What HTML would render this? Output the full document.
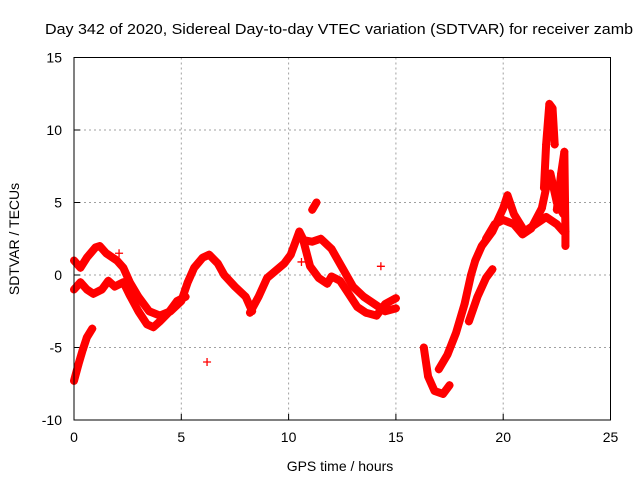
<!DOCTYPE html>
<html><head><meta charset="utf-8"><style>
body{margin:0;background:#fff}
svg{display:block;font-family:"Liberation Sans",sans-serif}
</style></head><body>
<svg id="chart" width="640" height="480">
<rect x="0" y="0" width="640" height="480" fill="#fff"/>
<text x="339" y="34" font-size="15" text-anchor="middle" textLength="588" lengthAdjust="spacingAndGlyphs">Day 342 of 2020, Sidereal Day-to-day VTEC variation (SDTVAR) for receiver zamb</text>
<g id="grid"></g>
<g id="ticks"></g>
<g id="series"></g>
<rect x="74" y="57.5" width="536.5" height="362.5" fill="none" stroke="#000" stroke-width="1"/>
<text x="340" y="471" font-size="14" text-anchor="middle">GPS time / hours</text>
<text x="0" y="0" font-size="14" text-anchor="middle" transform="translate(19,239) rotate(-90)">SDTVAR / TECUs</text>
</svg>
<script>
const xTicks=[0,5,10,15,20,25];
const yTicks=[-10,-5,0,5,10,15];
const trackA=[[0,-7.3],[0.2,-6.2],[0.4,-5.2],[0.6,-4.3],[0.85,-3.7]];
const trackB=[[0,1],[0.3,0.5],[0.6,1.2],[1.0,1.9],[1.2,2.0],[1.5,1.5],[2.0,1.0],[2.3,0.5],[2.6,-0.5],[3.0,-1.5],[3.5,-2.5],[4.0,-2.8],[4.5,-2.5],[5.0,-1.8],[5.3,-0.5],[5.6,0.5],[6.0,1.2],[6.3,1.4],[6.7,0.8],[7.0,0],[7.5,-0.8],[8.0,-1.5],[8.3,-2.5]];
const trackC=[[0,-1],[0.3,-0.5],[0.6,-1],[0.9,-1.3],[1.3,-1.0],[1.6,-0.4],[1.9,-0.8],[2.3,-0.5],[2.6,-1.4],[3.0,-2.5],[3.4,-3.4],[3.7,-3.6],[4.0,-3.2],[4.4,-2.6],[4.8,-1.8],[5.2,-1.5]];
const trackD=[[8.2,-2.6],[8.6,-1.5],[9.0,-0.2],[9.4,0.3],[9.8,0.8],[10.1,1.4],[10.3,2.2],[10.5,3.0],[10.7,2.4],[11.1,2.3],[11.5,2.5],[12.0,1.8],[12.5,0.5],[13.0,-0.8],[13.5,-1.5],[14.0,-2.0],[14.5,-2.5],[15.0,-2.3]];
const trackE=[[10.7,2.3],[11.0,0.6],[11.4,-0.2],[11.8,-0.6],[12.0,-0.1],[12.4,-0.4],[12.8,-1.3],[13.2,-2.2],[13.6,-2.6],[14.1,-2.8],[14.5,-2.0],[15.0,-1.6]];
const trackF=[[11.1,4.5],[11.3,5.0]];
const trackG=[[16.3,-5.0],[16.5,-7.0],[16.8,-8.0],[17.2,-8.2],[17.5,-7.6]];
const trackH=[[17.0,-6.5],[17.4,-5.5],[17.8,-4.0],[18.2,-2.0],[18.5,0],[18.7,1.0],[19.0,2.0],[19.5,3.0],[20.0,4.6],[20.2,5.5],[20.5,4.2],[21.0,3.0],[21.5,3.5],[22.0,4.0],[22.5,3.5],[22.8,3.0]];
const trackI=[[18.4,-3.2],[18.8,-1.5],[19.2,-0.2],[19.5,0.4]];
const trackJ=[[19.2,2.5],[19.6,3.5],[20.0,3.8],[20.5,3.5],[20.9,2.8],[21.3,3.2],[21.8,4.6],[22.0,6.0],[22.2,7.0],[22.5,5.0],[22.8,4.2]];
const trackK=[[21.9,6.0],[22.0,9.0],[22.15,11.8],[22.3,11.5],[22.4,9.0]];
const trackL=[[22.5,4.5],[22.7,7.0],[22.85,8.5],[22.9,3.0],[22.9,2.0]];
const singles=[[6.2,-6.0],[10.6,0.9],[2.1,1.5],[14.3,0.6]];
const tracks=[trackA,trackB,trackC,trackD,trackE,trackF,trackG,trackH,trackI,trackJ,trackK,trackL];
const NS='http://www.w3.org/2000/svg';
function X(t){return 74+t*(536.5/25);}
function Y(v){return 275-v*14.5;}
function mk(tag,attrs,parent){const e=document.createElementNS(NS,tag);for(const k in attrs)e.setAttribute(k,attrs[k]);parent.appendChild(e);return e;}
const grid=document.getElementById('grid'),ticks=document.getElementById('ticks'),ser=document.getElementById('series');
xTicks.forEach(t=>{
  if(t>0&&t<25){const l=mk('line',{x1:X(t),x2:X(t),y1:57.5,y2:420,stroke:'#a0a0a0','stroke-dasharray':'2,3'},grid);
  
  }
  const tk=mk('line',{x1:X(t),x2:X(t),y1:420,y2:414,stroke:'#000'},ticks);
  
  
  const tx=mk('text',{x:X(t),y:442,'font-size':14,'text-anchor':'middle'},ticks);tx.textContent=t;
  
  
});
yTicks.forEach(v=>{
  if(v>-10&&v<15){const l=mk('line',{x1:74,x2:610.5,y1:Y(v),y2:Y(v),stroke:'#a0a0a0','stroke-dasharray':'2,3'},grid);
  
  }
  const tk=mk('line',{x1:74,x2:80,y1:Y(v),y2:Y(v),stroke:'#000'},ticks);
  
  
  const tx=mk('text',{x:62,y:Y(v)+5,'font-size':14,'text-anchor':'end'},ticks);tx.textContent=v;
  
  
});
function plus(t,v){
  const p=mk('path',{d:`M${X(t)-4},${Y(v)}h8M${X(t)},${Y(v)-4}v8`,stroke:'#f00','stroke-width':1.3,fill:'none'},ser);
  
  
}
tracks.forEach(tr=>{
  const pl=mk('polyline',{points:tr.map(p=>X(p[0])+','+Y(p[1])).join(' '),stroke:'#f00','stroke-width':8,fill:'none','stroke-linejoin':'round','stroke-linecap':'round'},ser);
  
  
  tr.forEach(p=>plus(p[0],p[1]));
});
singles.forEach(p=>plus(p[0],p[1]));
</script>
</body></html>
